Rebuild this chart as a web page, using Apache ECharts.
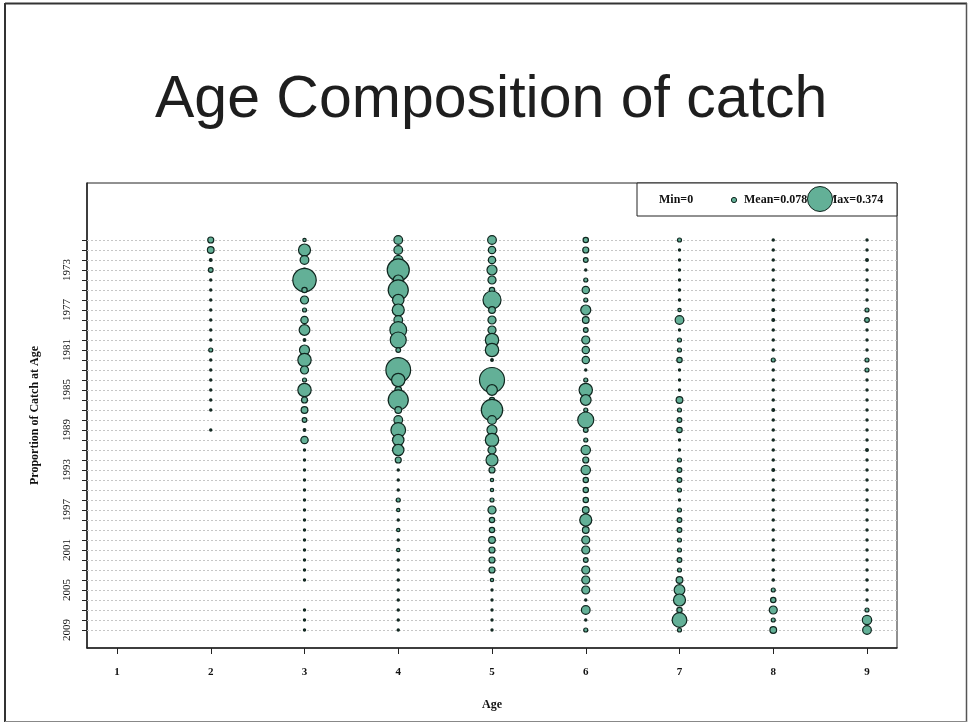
<!DOCTYPE html>
<html>
<head>
<meta charset="utf-8">
<script src="https://cdn.jsdelivr.net/npm/echarts@6.0.0/dist/echarts.min.js"></script>
<style>html,body{margin:0;padding:0;background:#fff}#chart{width:968px;height:725px}</style>
</head>
<body>
<div id="chart"></div>
<script>
// ---- data ----
const years = [1970,1971,1972,1973,1974,1975,1976,1977,1978,1979,
               1980,1981,1982,1983,1984,1985,1986,1987,1988,1989,
               1990,1991,1992,1993,1994,1995,1996,1997,1998,1999,
               2000,2001,2002,2003,2004,2005,2006,2007,2008,2009];
const ages = [1,2,3,4,5,6,7,8,9];
const yTickLabels = [1973,1977,1981,1985,1989,1993,1997,2001,2005,2009];
const xTickLabels = [1,2,3,4,5,6,7,8,9];

// proportion of catch at age, 1970..2009
const age1 = [0,0,0,0,0,0,0,0,0,0, 0,0,0,0,0,0,0,0,0,0,
              0,0,0,0,0,0,0,0,0,0, 0,0,0,0,0,0,0,0,0,0];
const age2 = [0.09,0.10,0.04,0.07,0.03,0.03,0.03,0.03,0.03,0.03,
              0.03,0.06,0.03,0.03,0.03,0.03,0.025,0.02,0,0.025,
              0,0,0,0,0,0,0,0,0,0, 0,0,0,0,0,0,0,0,0,0];
const age3 = [0.05,0.18,0.13,0.06,0.35,0.08,0.12,0.06,0.11,0.16,
              0.04,0.15,0.20,0.12,0.06,0.20,0.09,0.10,0.07,0.04,
              0.11,0.03,0.03,0.03,0.03,0.03,0.03,0.03,0.03,0.03,
              0.02,0.02,0.03,0.03,0.03,0,0,0.03,0.03,0.03];
const age4 = [0.13,0.13,0.14,0.33,0.15,0.30,0.17,0.18,0.13,0.25,
              0.24,0.07,0.06,0.37,0.20,0.10,0.30,0.10,0.13,0.22,
              0.17,0.17,0.09,0.03,0.03,0.03,0.06,0.05,0.03,0.05,
              0.03,0.05,0.03,0.03,0.03,0.03,0.03,0.03,0.03,0.03];
const age5 = [0.13,0.11,0.11,0.15,0.12,0.08,0.27,0.10,0.12,0.12,
              0.20,0.20,0.04,0.05,0.374,0.16,0.08,0.32,0.13,0.15,
              0.20,0.12,0.18,0.09,0.05,0.05,0.06,0.12,0.08,0.08,
              0.10,0.09,0.09,0.09,0.05,0.03,0.03,0.03,0.015,0.03];
const age6 = [0.08,0.09,0.07,0.03,0.06,0.11,0.06,0.15,0.10,0.07,
              0.12,0.11,0.11,0.03,0.06,0.20,0.16,0.06,0.24,0.07,
              0.06,0.14,0.09,0.14,0.08,0.08,0.08,0.10,0.18,0.10,
              0.12,0.12,0.07,0.12,0.12,0.12,0.03,0.13,0.03,0.06];
const age7 = [0.06,0.03,0.03,0.03,0.03,0.035,0.035,0.05,0.13,0.03,
              0.06,0.06,0.08,0.03,0.02,0.03,0.10,0.06,0.07,0.08,
              0.025,0.025,0.06,0.07,0.07,0.06,0.03,0.06,0.07,0.07,
              0.06,0.06,0.07,0.06,0.10,0.16,0.18,0.08,0.22,0.06];
const age8 = [0.025,0.025,0.025,0.025,0.025,0.025,0.025,0.04,0.04,0.025,
              0.025,0.025,0.06,0.025,0.025,0.025,0.025,0.04,0.025,0.025,
              0.025,0.025,0.025,0.04,0.025,0.025,0.025,0.025,0.025,0.025,
              0.025,0.025,0.025,0.035,0.035,0.06,0.08,0.12,0.06,0.10];
const age9 = [0.025,0.02,0.04,0.025,0.025,0.025,0.025,0.06,0.07,0.025,
              0.025,0.025,0.06,0.06,0.03,0.03,0.03,0.03,0.03,0.03,
              0.03,0.04,0.03,0.03,0.03,0.03,0.03,0.03,0.03,0.03,
              0.02,0.03,0.03,0.03,0.035,0.03,0.03,0.06,0.14,0.13];

const meanValue = 0.078;
const maxValue = 0.374;

// ---- build ----
const ageSeries = [age1, age2, age3, age4, age5, age6, age7, age8, age9];
const points = [];
ageSeries.forEach((arr, ai) => arr.forEach((v, yi) => {
  if (v > 0) points.push([ages[ai], years[yi], v]);
}));

const MAX_DIAM = 25;
const FILL = '#63b097';
const EDGE = '#10261f';
const SERIF = '"Liberation Serif", "DejaVu Serif", serif';

const chart = echarts.init(document.getElementById('chart'), null, {renderer: 'canvas'});
chart.setOption({
  animation: false,
  backgroundColor: '#fff',
  title: {
    text: 'Age Composition of catch',
    left: 150, top: 66,
    textStyle: {fontFamily: '"Liberation Sans", Arial, sans-serif', fontSize: 59, fontWeight: 'normal', color: '#1e1e1e'}
  },
  grid: {left: 87, right: 71, top: 183, bottom: 77, show: true, borderColor: '#222', borderWidth: 1, backgroundColor: 'transparent'},
  xAxis: {
    type: 'value', min: 0.68, max: 9.32,
    name: 'Age', nameLocation: 'middle', nameGap: 51,
    nameTextStyle: {fontFamily: SERIF, fontSize: 12, fontWeight: 'bold', color: '#111'},
    axisLine: {show: true, onZero: false, lineStyle: {color: '#222', width: 1.5}},
    axisTick: {show: true, length: 6, customValues: xTickLabels, lineStyle: {color: '#222'}},
    axisLabel: {customValues: xTickLabels, margin: 19, fontFamily: SERIF, fontSize: 11, fontWeight: 'bold', color: '#111'},
    splitLine: {show: false}
  },
  yAxis: {
    type: 'value', inverse: true, min: 1964.3, max: 2010.8,
    name: 'Proportion of Catch at Age', nameLocation: 'middle', nameGap: 46, nameRotate: 90,
    nameTextStyle: {fontFamily: SERIF, fontSize: 12, fontWeight: 'bold', color: '#111'},
    axisLine: {show: true, onZero: false, lineStyle: {color: '#222', width: 1.5}},
    axisTick: {show: true, length: 5, customValues: years, lineStyle: {color: '#222'}},
    axisLabel: {customValues: yTickLabels, rotate: 90, margin: 14, fontFamily: SERIF, fontSize: 11, color: '#111',
                formatter: v => String(v)},
    splitLine: {show: false}
  },
  series: [
    {
      type: 'scatter', data: [], z: 1, silent: true,
      markLine: {
        z: 1, silent: true, symbol: 'none', animation: false,
        label: {show: false},
        lineStyle: {type: [2, 2], color: '#c6c6c6', width: 1},
        data: years.map(y => ({yAxis: y}))
      }
    },
    {
      type: 'scatter', z: 3,
      data: points,
      symbol: 'circle',
      symbolSize: d => Math.max(d[2] / maxValue * MAX_DIAM, 2.2),
      itemStyle: {
        color: p => (p.value[2] < 0.045 ? EDGE : FILL),
        borderColor: EDGE, borderWidth: 1.2, opacity: 1
      }
    }
  ],
  graphic: [
    {type: 'line', shape: {x1: 5, y1: 3.5, x2: 967, y2: 3.5}, style: {stroke: '#333', lineWidth: 2}},
    {type: 'line', shape: {x1: 5, y1: 3, x2: 5, y2: 722}, style: {stroke: '#333', lineWidth: 2}},
    {type: 'line', shape: {x1: 966.5, y1: 3, x2: 966.5, y2: 722}, style: {stroke: '#555', lineWidth: 1.5}},
    {type: 'line', shape: {x1: 5, y1: 721.5, x2: 967, y2: 721.5}, style: {stroke: '#888', lineWidth: 1}},
    {type: 'rect', z: 10, shape: {x: 637, y: 183, width: 260, height: 33}, style: {fill: '#fff', stroke: '#222', lineWidth: 1}},
    {type: 'text', z: 11, x: 659, y: 200, style: {text: 'Min=0', font: 'bold 12px ' + SERIF, fill: '#111', verticalAlign: 'middle'}},
    {type: 'circle', z: 11, shape: {cx: 734, cy: 200, r: meanValue / maxValue * MAX_DIAM / 2}, style: {fill: FILL, stroke: EDGE, lineWidth: 1}},
    {type: 'text', z: 11, x: 744, y: 200, style: {text: 'Mean=0.078', font: 'bold 12px ' + SERIF, fill: '#111', verticalAlign: 'middle'}},
    {type: 'text', z: 11, x: 826, y: 200, style: {text: 'Max=0.374', font: 'bold 12px ' + SERIF, fill: '#111', verticalAlign: 'middle'}},
    {type: 'circle', z: 12, shape: {cx: 820, cy: 199, r: MAX_DIAM / 2}, style: {fill: FILL, stroke: EDGE, lineWidth: 1}}
  ]
});
</script>
</body>
</html>
